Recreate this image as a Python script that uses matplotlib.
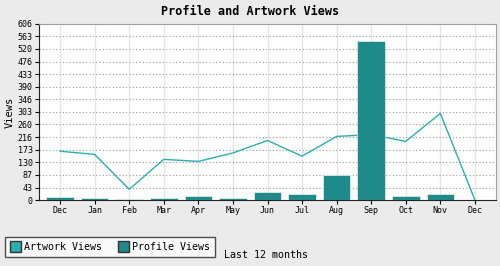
import matplotlib
matplotlib.use('Agg')
import matplotlib.pyplot as plt
from matplotlib.patches import Patch
import numpy as np

months = ['Dec', 'Jan', 'Feb', 'Mar', 'Apr', 'May', 'Jun', 'Jul', 'Aug', 'Sep', 'Oct', 'Nov', 'Dec']
profile_views = [11, 8, 4, 8, 15, 8, 29, 22, 87, 548, 15, 22, 0]
artwork_views = [168, 157, 37, 140, 133, 162, 205, 151, 219, 225, 202, 298, 0]
y_ticks = [0, 43, 87, 130, 173, 216, 260, 303, 346, 390, 433, 476, 520, 563, 606]

bg = '#ebebeb'
bar_color = '#1e8a8a'
line_color = '#2aafaf'
font = 'DejaVu Sans Mono'

fig = plt.figure(figsize=(5, 2.66), dpi=100, facecolor=bg)
ax = fig.add_axes([0.078, 0.248, 0.914, 0.662])
ax.set_facecolor('white')

x = np.arange(len(months))
ax.bar(x, profile_views, width=0.8, color=bar_color, edgecolor='#eeeeee', linewidth=0.5, zorder=3)
ax.plot(x, artwork_views, color=line_color, linewidth=1, zorder=2)

ax.set_xlim(-0.61, len(months) - 1 + 0.61)
ax.set_ylim(0, 606)
ax.set_xticks(x)
ax.set_xticklabels(months, fontsize=6, family=font)
ax.set_yticks(y_ticks)
ax.set_yticklabels([str(v) for v in y_ticks], fontsize=6, family=font)
ax.tick_params(length=3, width=0.8, pad=1.5)

ax.grid(axis='y', color='#999999', linestyle=(0, (1, 2)), linewidth=0.8, zorder=1)
ax.grid(axis='x', color='#e6e6e6', linestyle='-', linewidth=1, zorder=1)
ax.set_axisbelow(True)

for side in ['top', 'right']:
    ax.spines[side].set_color('#a0a0a0')
for side in ['left', 'bottom']:
    ax.spines[side].set_color('#222222')

ax.set_ylabel('Views', fontsize=7.5, family=font, labelpad=2)
fig.text(0.5, 0.955, 'Profile and Artwork Views', ha='center', va='center',
         fontsize=8.5, fontweight='bold', family=font)

handles = [Patch(facecolor=line_color, edgecolor='#333333', label='Artwork Views'),
           Patch(facecolor=bar_color, edgecolor='#333333', label='Profile Views')]
leg = fig.legend(handles=handles, loc='lower left', bbox_to_anchor=(0.01, 0.035), ncol=2,
                 prop={'family': font, 'size': 7.2}, frameon=True, fancybox=False,
                 handlelength=1.1, handleheight=1.3, handletextpad=0.4, columnspacing=1.5,
                 borderpad=0.45, borderaxespad=0)
leg.get_frame().set_edgecolor('#222222')
leg.get_frame().set_linewidth(1)
fig.text(0.448, 0.041, 'Last 12 months', ha='left', va='center', fontsize=7.2, family=font)

fig.savefig('out.png', dpi=100, facecolor=bg)
